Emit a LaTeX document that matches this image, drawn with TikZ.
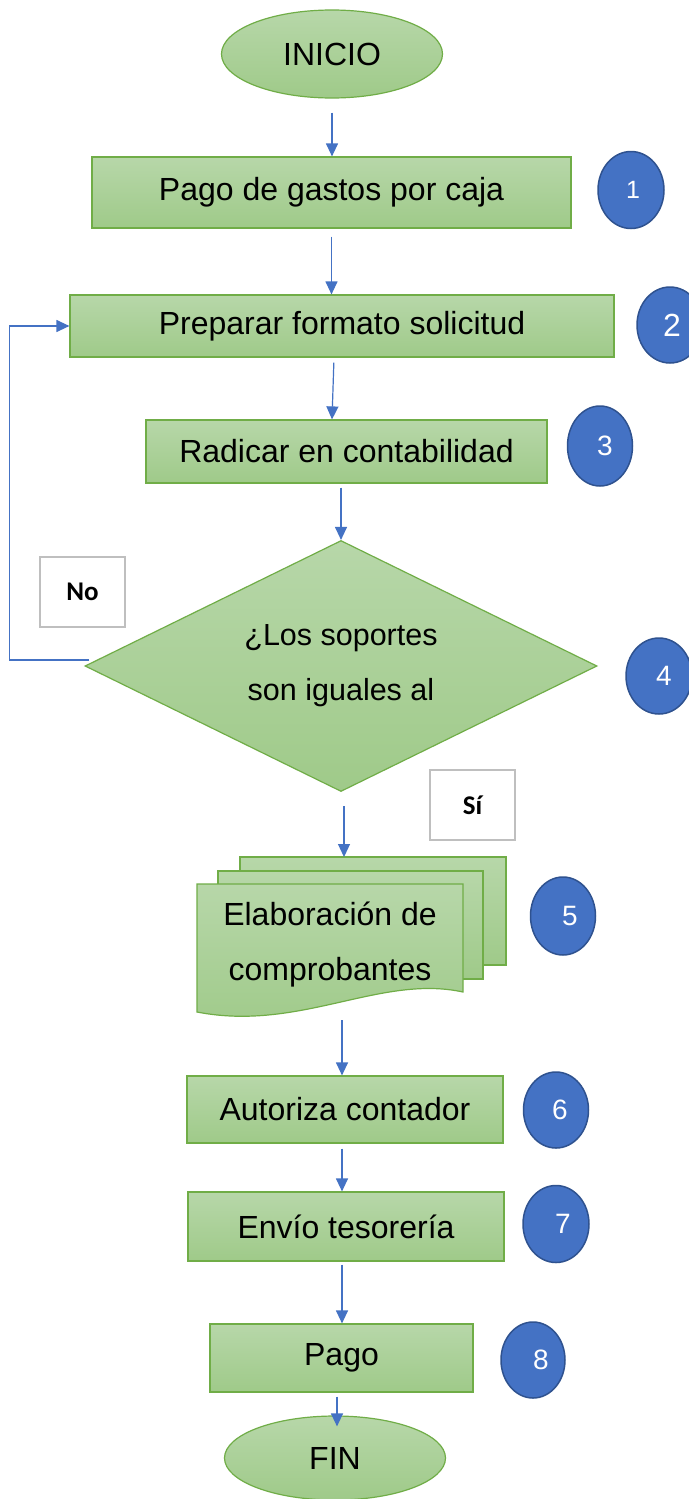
\documentclass[tikz,border=0pt]{standalone}
\usepackage{fontspec}
\setmainfont{Liberation Sans}
\newfontfamily\carlito{Carlito}
\usetikzlibrary{shapes.geometric,arrows.meta}
\definecolor{grtop}{RGB}{183,215,169}
\definecolor{grbot}{RGB}{159,202,137}
\definecolor{grline}{RGB}{112,173,71}
\definecolor{blu}{RGB}{68,114,196}
\definecolor{dblu}{RGB}{47,82,143}
\definecolor{gry}{RGB}{191,191,191}
\begin{document}
\begin{tikzpicture}[x=1pt,y=-1pt,
  every node/.style={font=\fontsize{32}{38}\selectfont},
  proc/.style={rectangle, draw=grline, line width=1.2pt, top color=grtop, bottom color=grbot, inner sep=0pt},
  term/.style={ellipse, draw=grline, line width=1.2pt, top color=grtop, bottom color=grbot, inner sep=0pt},
  dec/.style={diamond, shape aspect=2.04, draw=grline, line width=1.2pt, top color=grtop, bottom color=grbot, inner sep=0pt, align=center, font=\fontsize{30.5}{55}\selectfont},
  num/.style={ellipse, draw=dblu, line width=1.5pt, fill=blu, text=white, inner sep=0pt, font=\fontsize{28}{32}\selectfont},
  nshift/.style={execute at begin node={\hspace*{#1}}},
  lbl/.style={rectangle, draw=gry, line width=1.5pt, fill=white, inner sep=0pt, font=\carlito\bfseries\fontsize{27}{30}\selectfont},
  arr/.style={draw=blu, line width=1.2pt, -{Triangle[width=12pt,length=13pt]}},
  docsh/.style={draw=grline, line width=1.2pt, top color=grtop, bottom color=grbot},
  txt/.style={inner sep=0pt, align=center, font=\fontsize{32}{55}\selectfont}
]
\useasboundingbox (0,0) rectangle (688,1499);
\fill[white] (0,0) rectangle (688,1499);

% terminals and processes
\node[term, minimum width=221pt, minimum height=88pt] (ini) at (332,54) {INICIO};
\node[proc, minimum width=479pt, minimum height=71pt] (b1) at (331.5,192.5) {Pago de gastos por caja};
\node[proc, minimum width=544pt, minimum height=62pt] (b2) at (342,326) {Preparar formato solicitud};
\node[proc, minimum width=401pt, minimum height=63pt] (b3) at (346.5,451.5) {Radicar en contabilidad};
\node[dec, minimum width=512pt, minimum height=251pt] (dia) at (341,666) {¿Los soportes\\son iguales al};

% multi-document
\draw[docsh] (240,857) rectangle (506,965);
\draw[docsh] (218,871) rectangle (483,979);
\draw[docsh] (197,884) -- (463,884) -- (463,992) .. controls (380,974) and (300,1032) .. (197,1012) -- cycle;
\node[txt] (doc) at (330,945) {Elaboración de\\comprobantes};
\coordinate (doctop) at (344,857);
\coordinate (docbot) at (342,1006);

\node[proc, minimum width=316pt, minimum height=67pt] (b4) at (345,1109.5) {Autoriza contador};
\node[proc, minimum width=316pt, minimum height=69pt] (b5) at (346,1226.5) {Envío tesorería};
\node[proc, minimum width=263pt, minimum height=68pt] (b6) at (341.5,1358) {Pago};
\node[term, minimum width=221pt, minimum height=84pt] (fin) at (335,1458) {FIN};

% labels
\node[lbl, minimum width=85pt, minimum height=70pt] (no) at (82.5,592) {No};
\node[lbl, minimum width=85pt, minimum height=70pt] (si) at (472.5,805) {Sí};

% step numbers
\node[num, nshift=4pt, minimum width=66pt, minimum height=77pt, font=\fontsize{25}{30}\selectfont] (c1) at (631,190) {1};
\node[num, nshift=4pt, minimum width=66pt, minimum height=76pt, font=\fontsize{32}{36}\selectfont] (c2) at (670,325) {2};
\node[num, nshift=10pt, minimum width=65pt, minimum height=80pt] (c3) at (600,446) {3};
\node[num, nshift=10pt, minimum width=66pt, minimum height=76pt] (c4) at (659,676) {4};
\node[num, nshift=14pt, minimum width=65pt, minimum height=78pt] (c5) at (563,916) {5};
\node[num, nshift=8pt, minimum width=65pt, minimum height=76pt] (c6) at (556,1110) {6};
\node[num, nshift=14pt, minimum width=66pt, minimum height=77pt] (c7) at (556,1224) {7};
\node[num, nshift=16pt, minimum width=64pt, minimum height=76pt] (c8) at (533,1360) {8};

% connectors
\draw[arr, shorten <=14pt] (ini.south) -- (ini.south |- b1.north);
\draw[arr, shorten <=8pt] (b1.south) -- (b1.south |- b2.north);
\draw[arr, shorten <=5pt] ([xshift=-8pt]b2.south) -- ([xshift=-14.5pt]b3.north);
\draw[arr, shorten <=4pt] ([xshift=-5.5pt]b3.south) -- (dia.north);
\draw[arr, shorten <=14pt] ([xshift=3pt]dia.south) -- (doctop);
\draw[arr, shorten <=14pt] (docbot) -- (docbot |- b4.north);
\draw[arr, shorten <=5pt] ([xshift=-3pt]b4.south) -- ([xshift=-3pt]b4.south |- b5.north);
\draw[arr, shorten <=3pt] ([xshift=-4pt]b5.south) -- ([xshift=-4pt]b5.south |- b6.north);
\draw[arr, shorten <=4pt] ([xshift=-4.5pt]b6.south) -- ([xshift=-4.5pt,yshift=-11pt]b6.south |- fin.north);
\draw[arr] ([xshift=5pt,yshift=6pt]dia.west) -- ++(-80,0) |- (b2.west);
\end{tikzpicture}
\end{document}
